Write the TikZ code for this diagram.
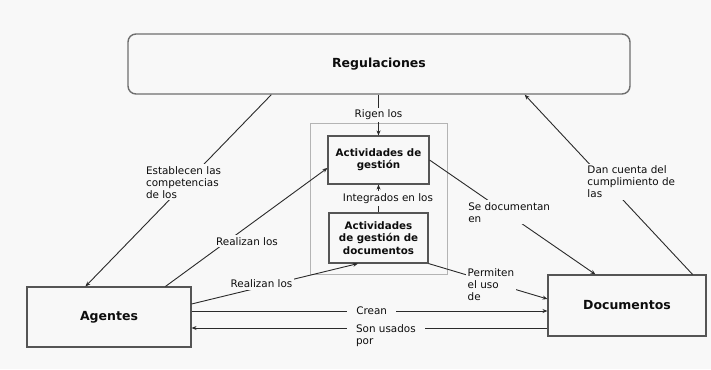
\documentclass[tikz,border=0pt]{standalone}
\usepackage{fontspec}
\setmainfont{DejaVu Sans}
\usetikzlibrary{arrows.meta}
\definecolor{bg}{HTML}{F8F8F8}
\definecolor{ln}{HTML}{2A2A2A}
\definecolor{bd}{HTML}{555555}
\definecolor{lg}{HTML}{B4B4B4}
\definecolor{tx}{HTML}{0D0D0D}
\begin{document}
\begin{tikzpicture}[x=1pt,y=-1pt,
  box/.style={draw=bd, line width=1.1pt, fill=bg, inner sep=0pt, text=tx,
    font=\fontsize{12.5}{14}\selectfont\bfseries},
  ibox/.style={draw=bd, line width=1.1pt, fill=bg, inner sep=0pt, align=center, text=tx,
    font=\fontsize{10.3}{12.3}\selectfont\bfseries},
  conn/.style={draw=ln, line width=0.9pt, -{Stealth[length=5pt,width=4pt]}},
  lbl/.style={fill=bg, inner sep=2pt, align=left, text=tx,
    font=\fontsize{10.4}{12}\selectfont}
]
\fill[bg] (0,0) rectangle (711,369);
\useasboundingbox (0,0) rectangle (711,369);

% nodes
\node[draw=lg, line width=1pt, minimum width=137pt, minimum height=151pt, inner sep=0pt] (grp) at (378.5,198.5) {};
\node[box, rounded corners=8pt, draw=bd!85, line width=1.4pt, minimum width=502pt, minimum height=60pt] (reg) at (379,64) {Regulaciones};
\node[ibox, minimum width=101pt, minimum height=48pt] (act) at (378.5,160) {Actividades de\\gestión};
\node[ibox, minimum width=99pt, minimum height=50pt] (actdoc) at (378.5,238) {Actividades\\de gestión de\\documentos};
\node[box, minimum width=164pt, minimum height=60pt] (age) at (109,317) {Agentes};
\node[box, minimum width=158pt, minimum height=61pt] (doc) at (627,305.5) {Documentos};

% connectors
\draw[conn] (reg.south -| act.north) -- node[lbl, pos=0.5] {Rigen los} (act.north);
\draw[conn] (actdoc.north) -- node[lbl, pos=0.5, xshift=9.5pt] {Integrados en los} (act.south);
\draw[conn] ([xshift=144pt]reg.south west) -- node[lbl, pos=0.456, xshift=-3pt] {Establecen las\\competencias\\de los} ([xshift=59pt]age.north west);
\draw[conn] ([xshift=139pt]age.north west) -- node[lbl, pos=0.38, xshift=20pt] {Realizan los} ([yshift=-8pt]act.west);
\draw[conn] ([yshift=13pt]age.east) -- node[lbl, pos=0.42, yshift=3pt] {Realizan los} ([xshift=-20.5pt]actdoc.south);
\draw[conn] (act.east) -- node[lbl, pos=0.48, yshift=2.5pt] {Se documentan\\en} ([xshift=48pt]doc.north west);
\draw[conn] ([xshift=-14pt]doc.north east) -- node[lbl, pos=0.514, xshift=25pt] {Dan cuenta del\\cumplimiento de\\las} ([xshift=-106pt]reg.south east);
\draw[conn] (actdoc.south east) -- node[lbl, pos=0.525, yshift=-2.5pt] {Permiten\\el uso\\de} ([yshift=6.5pt]doc.west);
\draw[conn] ([yshift=6pt]age.east) -- node[lbl, pos=0.506, inner xsep=9pt] {Crean} ([yshift=-5.5pt]doc.west);
\draw[conn] ([yshift=-22.5pt]doc.west) -- node[lbl, pos=0.454, anchor=north, yshift=6pt, inner xsep=9pt] {Son usados\\por} ([yshift=-11pt]age.east);
\end{tikzpicture}
\end{document}
